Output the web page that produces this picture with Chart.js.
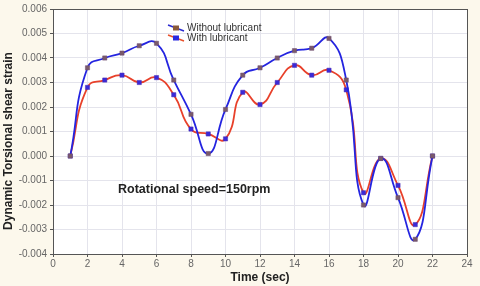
<!DOCTYPE html>
<html>
<head>
<meta charset="utf-8">
<script src="https://cdn.jsdelivr.net/npm/chart.js@4"></script>
<style>
  html, body { margin: 0; padding: 0; background: #fcf8ec; }
  #wrap { width: 480px; height: 286px; position: relative; }
</style>
</head>
<body>
<div id="wrap"><canvas id="c" width="480" height="286"></canvas></div>
<script>
'use strict';

/* datos */
const TIME = [1, 2, 3, 4, 5, 6, 7, 8, 9, 10, 11, 12, 13, 14, 15, 16, 17, 18, 19, 20, 21, 22];
const WITHOUT_LUB = [0, 0.0036, 0.0040, 0.0042, 0.0045, 0.0046, 0.0031, 0.0017, 0.0001, 0.0019, 0.0033,
  0.0036, 0.0040, 0.0043, 0.0044, 0.0048, 0.0031, -0.0020, -0.0001, -0.0017, -0.0034, 0];
const WITH_LUB = [0, 0.0028, 0.0031, 0.0033, 0.0030, 0.0032, 0.0025, 0.0011, 0.0009, 0.0007, 0.0026,
  0.0021, 0.0030, 0.0037, 0.0033, 0.0035, 0.0027, -0.0015, -0.0001, -0.0012, -0.0028, 0];
const X_TICKS = [0, 2, 4, 6, 8, 10, 12, 14, 16, 18, 20, 22, 24];
const Y_TICKS = [-0.004, -0.003, -0.002, -0.001, 0, 0.001, 0.002, 0.003, 0.004, 0.005, 0.006];
const LABELS = ['Without lubricant', 'With lubricant'];
const Y_TITLE = 'Dynamic Torsional shear strain';
const NOTE = 'Rotational speed=150rpm';

const toXY = arr => arr.map((v, i) => ({ x: TIME[i], y: v }));
const FONT = 'Arial, "Liberation Sans", sans-serif';

/* fondo blanco del area, marco, leyenda y textos */
const plotBg = {
  id: 'plotBg',
  beforeDraw(chart) {
    const { ctx, chartArea: a } = chart;
    ctx.save();
    ctx.fillStyle = '#ffffff';
    ctx.fillRect(a.left, a.top, a.right - a.left, a.bottom - a.top);
    ctx.restore();
  },
  afterDraw(chart) {
    const { ctx, chartArea: a } = chart;
    ctx.save();
    ctx.strokeStyle = '#555555';
    ctx.lineWidth = 1;
    ctx.strokeRect(a.left + 0.5, a.top + 0.5, a.right - a.left, a.bottom - a.top);

    // leyenda dentro del grafico
    const items = [
      { line: '#2a2ad0', mark: '#8a5a3a', y: 28 },
      { line: '#e8502a', mark: '#2a2ae0', y: 38 }
    ];
    ctx.font = '10px ' + FONT;
    ctx.textBaseline = 'middle';
    items.forEach((it, i) => {
      ctx.strokeStyle = it.line;
      ctx.lineWidth = 1.5;
      ctx.beginPath();
      ctx.moveTo(168, it.y - 3);
      ctx.lineTo(184, it.y + 3);
      ctx.stroke();
      ctx.fillStyle = it.mark;
      ctx.fillRect(173, it.y - 2.5, 6, 5);
      ctx.fillStyle = '#333333';
      ctx.fillText(LABELS[i], 187, it.y);
    });

    ctx.font = 'bold 12.5px ' + FONT;
    ctx.fillStyle = '#222222';
    ctx.fillText(NOTE, 118, 190);

    // titulo eje y
    ctx.translate(9, 141);
    ctx.rotate(-Math.PI / 2);
    ctx.textAlign = 'center';
    ctx.font = 'bold 12px ' + FONT;
    ctx.fillText(Y_TITLE, 0, 0);
    ctx.restore();
  }
};

new Chart(document.getElementById('c'), {
  type: 'line',
  data: {
    datasets: [
      {
        label: LABELS[0],
        data: toXY(WITHOUT_LUB),
        borderColor: '#2424e0',
        borderWidth: 1.8,
        pointStyle: 'rect',
        pointRadius: 3,
        pointBackgroundColor: '#7a5a6a',
        pointBorderColor: '#6a4a70',
        pointBorderWidth: 0.5,
        tension: 0.5
      },
      {
        label: LABELS[1],
        data: toXY(WITH_LUB),
        borderColor: '#e8402a',
        borderWidth: 1.8,
        pointStyle: 'rect',
        pointRadius: 3,
        pointBackgroundColor: '#3a2ad8',
        pointBorderColor: '#4a2ab0',
        pointBorderWidth: 0.5,
        tension: 0.5
      }
    ]
  },
  options: {
    responsive: false,
    animation: false,
    layout: { padding: { top: 6, right: 13, left: 0, bottom: 0 } },
    plugins: { legend: { display: false }, tooltip: { enabled: false } },
    scales: {
      x: {
        type: 'linear',
        min: 0, max: 24,
        afterBuildTicks: s => { s.ticks = X_TICKS.map(v => ({ value: v })); },
        grid: { color: '#e4e4ec', drawTicks: true, tickLength: 3, tickColor: '#555' },
        border: { display: false },
        ticks: { color: '#666', font: { size: 10, family: 'Arial' }, padding: 1 },
        title: {
          display: true, text: 'Time (sec)', color: '#222',
          font: { size: 12, weight: 'bold', family: 'Arial' }, padding: { top: 0, bottom: 1 }
        },
        afterFit: s => { s.height = 32; }
      },
      y: {
        min: -0.004, max: 0.006,
        afterBuildTicks: s => { s.ticks = Y_TICKS.map(v => ({ value: v })); },
        grid: { color: '#e4e4ec', drawTicks: true, tickLength: 3, tickColor: '#555' },
        border: { display: false },
        ticks: {
          color: '#666', font: { size: 10, family: 'Arial' }, padding: 3,
          callback: v => v.toFixed(3)
        },
        afterFit: s => { s.width = 53; }
      }
    }
  },
  plugins: [plotBg]
});
</script>
</body>
</html>
